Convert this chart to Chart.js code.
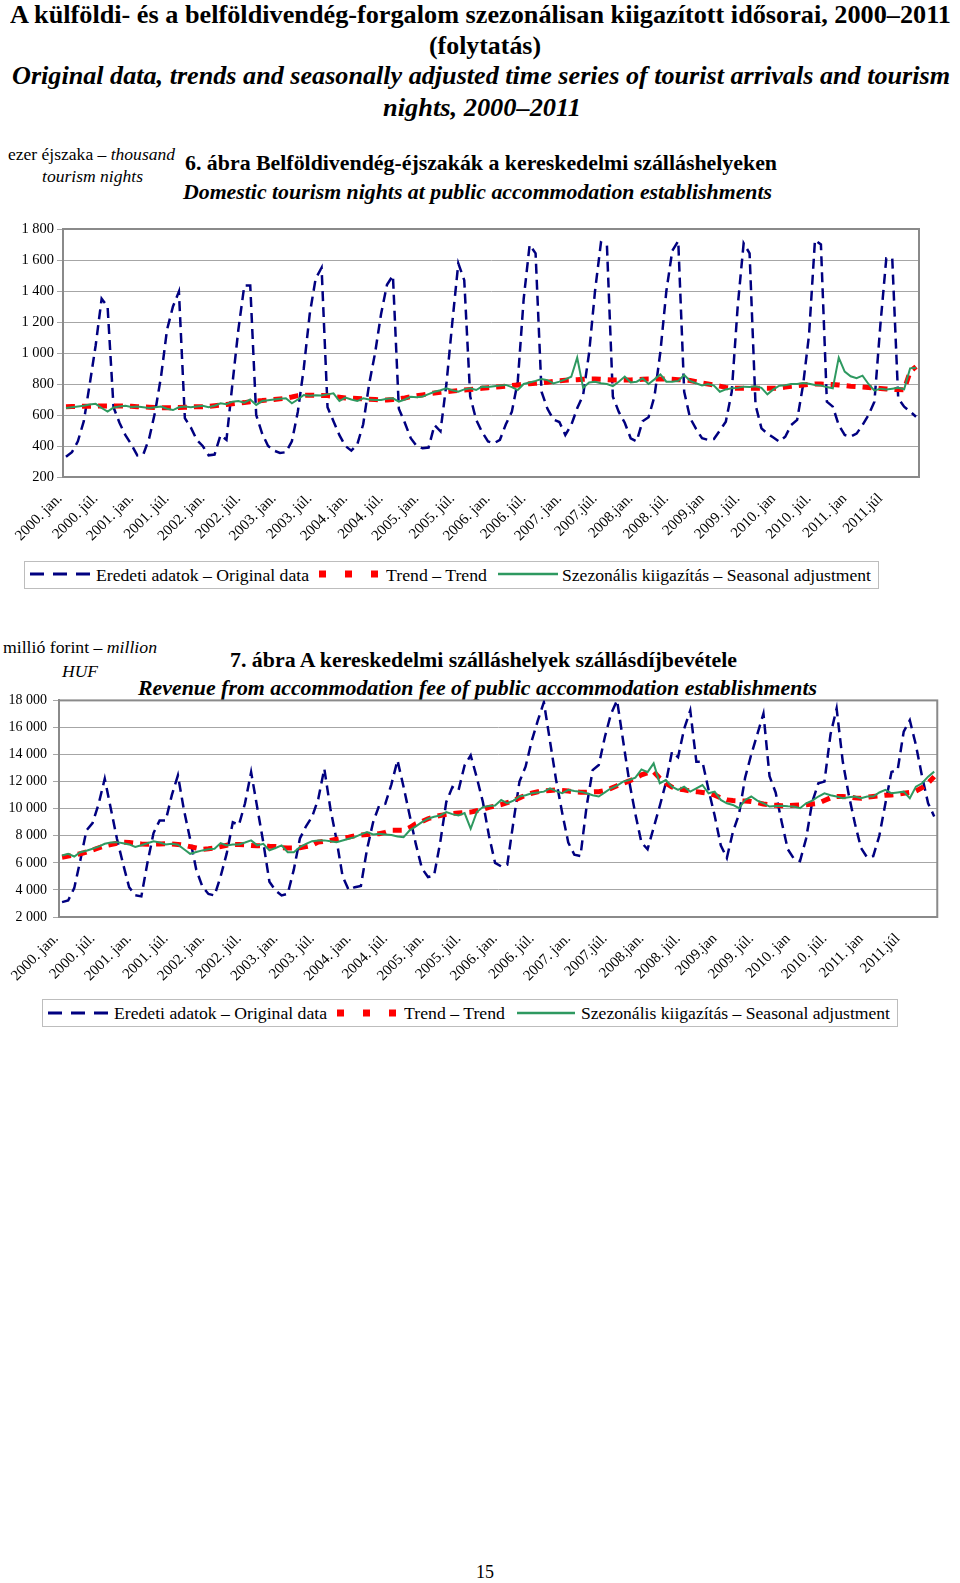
<!DOCTYPE html>
<html>
<head>
<meta charset="utf-8">
<script src="https://cdn.jsdelivr.net/npm/chart.js@4.4.1/dist/chart.umd.min.js"></script>
<style>
html,body{margin:0;padding:0;background:#fff;}
body{width:960px;height:1583px;position:relative;overflow:hidden;font-family:'Liberation Serif','Times New Roman',serif;color:#000;}
.t{position:absolute;white-space:nowrap;transform-origin:left center;}
.h1{font-size:26px;font-weight:bold;line-height:30px;height:30px;}
.h1i{font-size:26px;font-weight:bold;font-style:italic;line-height:30px;height:30px;}
.ct{font-size:20px;font-weight:bold;line-height:24px;height:24px;}
.cti{font-size:20px;font-weight:bold;font-style:italic;line-height:24px;height:24px;}
.unit{font-size:16px;line-height:20px;height:20px;}
.lgbox{position:absolute;border:1px solid #bdbdbd;box-sizing:border-box;background:#fff;}
.lgt{font-size:17.5px;line-height:20px;height:20px;}
.lgs{position:absolute;}
canvas{position:absolute;left:0;}
</style>
</head>
<body>
<!-- page titles -->
<div class="t h1" data-x0="10" data-w="941" style="top:0px">A külföldi- és a belföldivendég-forgalom szezonálisan kiigazított idősorai, 2000–2011</div>
<div class="t h1" data-x0="429" data-w="112" style="top:31px">(folytatás)</div>
<div class="t h1i" data-x0="12" data-w="938" style="top:61px">Original data, trends and seasonally adjusted time series of tourist arrivals and tourism</div>
<div class="t h1i" data-x0="383" data-w="198" style="top:93px">nights, 2000–2011</div>

<!-- chart 1 texts -->
<div class="t unit" data-x0="8" data-w="167" style="top:145px">ezer éjszaka – <i>thousand</i></div>
<div class="t unit" data-x0="42" data-w="101" style="top:167px"><i>tourism nights</i></div>
<div class="t ct" data-x0="185" data-w="592" style="top:151px">6. ábra Belföldivendég-éjszakák a kereskedelmi szálláshelyeken</div>
<div class="t cti" data-x0="183" data-w="589" style="top:180px">Domestic tourism nights at public accommodation establishments</div>

<canvas id="c1" width="960" height="342" style="top:215px"></canvas>

<div class="lgbox" style="left:24px;top:561px;width:855px;height:28px"></div>
<svg class="lgs" style="left:30px;top:570px" width="61" height="8"><line x1="0" y1="4" x2="61" y2="4" stroke="#000080" stroke-width="3" stroke-dasharray="14,9"/></svg>
<div class="t lgt" data-x0="96" data-w="213" style="top:565px">Eredeti adatok – Original data</div>
<svg class="lgs" style="left:319px;top:570px" width="59" height="8"><line x1="0" y1="4" x2="59" y2="4" stroke="#ff0000" stroke-width="7" stroke-dasharray="7,19"/></svg>
<div class="t lgt" data-x0="386" data-w="101" style="top:565px">Trend – Trend</div>
<svg class="lgs" style="left:498px;top:570px" width="60" height="8"><line x1="0" y1="4" x2="60" y2="4" stroke="#2e9960" stroke-width="2.5"/></svg>
<div class="t lgt" data-x0="562" data-w="309" style="top:565px">Szezonális kiigazítás – Seasonal adjustment</div>

<!-- chart 2 texts -->
<div class="t unit" data-x0="3" data-w="154" style="top:638px">millió forint – <i>million</i></div>
<div class="t unit" data-x0="62" data-w="36" style="top:662px"><i>HUF</i></div>
<div class="t ct" data-x0="230" data-w="507" style="top:648px">7. ábra A kereskedelmi szálláshelyek szállásdíjbevétele</div>
<div class="t cti" data-x0="138" data-w="679" style="top:676px">Revenue from accommodation fee of public accommodation establishments</div>

<canvas id="c2" width="960" height="311" style="top:686px"></canvas>

<div class="lgbox" style="left:42px;top:999px;width:856px;height:28px"></div>
<svg class="lgs" style="left:48px;top:1009px" width="61" height="8"><line x1="0" y1="4" x2="61" y2="4" stroke="#000080" stroke-width="3" stroke-dasharray="14,9"/></svg>
<div class="t lgt" data-x0="114" data-w="213" style="top:1003px">Eredeti adatok – Original data</div>
<svg class="lgs" style="left:337px;top:1009px" width="59" height="8"><line x1="0" y1="4" x2="59" y2="4" stroke="#ff0000" stroke-width="7" stroke-dasharray="7,19"/></svg>
<div class="t lgt" data-x0="404" data-w="101" style="top:1003px">Trend – Trend</div>
<svg class="lgs" style="left:517px;top:1009px" width="58" height="8"><line x1="0" y1="4" x2="58" y2="4" stroke="#2e9960" stroke-width="2.5"/></svg>
<div class="t lgt" data-x0="581" data-w="309" style="top:1003px">Szezonális kiigazítás – Seasonal adjustment</div>

<div class="t" style="left:476px;top:1561px;font-size:18px;line-height:22px">15</div>

<script>
// ---------- DATA ----------
const years = [2000,2001,2002,2003,2004,2005,2006,2007,2008,2009,2010,2011];
const months = ['01','02','03','04','05','06','07','08','09','10','11','12'];
const tickLabels = ["2000. jan.","2000. júl.","2001. jan.","2001. júl.","2002. jan.","2002. júl.",
  "2003. jan.","2003. júl.","2004. jan.","2004. júl.","2005. jan.","2005. júl.",
  "2006. jan.","2006. júl.","2007. jan.","2007.júl.","2008.jan.","2008. júl.",
  "2009.jan","2009. júl.","2010. jan","2010. júl.","2011. jan","2011.júl"];

// Chart 6: domestic tourism nights (thousand)
const nightsOriginal = [
  330,360,430,560,800,1050,1350,1300,650,550,470,410,
  340,345,450,620,850,1150,1300,1396,580,520,440,400,
  340,345,470,440,800,1150,1435,1435,600,480,400,370,
  355,360,430,620,900,1250,1480,1550,650,560,470,400,
  370,410,540,800,1000,1250,1440,1500,640,550,450,400,
  385,390,535,495,800,1200,1578,1470,720,570,490,430,
  417,440,540,620,815,1350,1697,1643,750,640,570,555,
  471,535,643,729,1000,1400,1714,1697,718,620,550,450,
  430,560,585,720,1009,1400,1660,1723,750,580,510,450,
  440,445,500,557,750,1300,1708,1643,665,514,480,455,
  428,460,535,568,794,1116,1729,1700,686,654,535,471,
  460,480,535,600,686,1180,1611,1611,708,654,622,589];
const nightsTrend = [
  654,655,656,657,657,658,658,658,658,658,658,656,
  654,652,650,648,647,647,647,648,650,652,653,654,
  656,660,664,668,672,676,680,686,690,693,697,700,
  704,708,716,725,727,728,727,726,725,720,715,710,
  708,706,704,702,700,697,697,700,705,710,718,724,
  730,736,742,746,750,754,758,762,765,768,772,776,
  780,783,786,790,794,798,802,804,808,812,816,820,
  824,826,828,830,832,832,830,828,826,826,826,826,
  828,830,832,832,832,832,830,828,826,822,815,806,
  800,794,786,778,772,772,772,772,772,772,772,772,
  775,780,785,789,793,797,800,800,798,796,794,790,
  786,783,780,777,774,771,768,766,764,763,880,912];
const nightsSA = [
  645,650,655,660,668,672,645,622,648,655,660,652,
  655,650,645,650,655,640,632,650,655,650,655,660,
  650,660,675,670,686,690,680,700,665,690,695,700,
  705,708,675,700,729,725,728,726,733,740,690,712,
  700,690,708,700,697,697,705,708,686,700,718,715,
  720,735,750,760,772,760,750,765,772,761,783,780,
  785,790,794,780,761,800,810,820,832,825,804,815,
  830,847,970,775,810,815,805,800,786,815,848,810,
  815,837,800,830,862,815,815,820,858,820,805,790,
  800,790,750,765,772,775,783,780,785,775,733,765,
  789,792,800,800,806,802,794,790,780,772,970,880,
  850,837,854,800,757,770,765,770,775,766,901,905];

// Chart 7: accommodation fee revenue (million HUF)
const revenueOriginal = [
  3100,3220,4130,6200,8400,8940,10360,12210,10000,7780,5930,4200,
  3600,3520,6000,8200,9130,9130,11000,12460,9870,7750,5500,4250,
  3700,3590,5000,6700,9000,8800,10400,12700,10100,7500,4600,3960,
  3590,3710,5500,7800,8700,9400,10700,12950,10000,7700,5000,4000,
  4200,4300,7000,9000,10240,10360,11800,13570,11600,9500,7400,5600,
  4950,5070,7500,10500,11600,11350,13200,13940,12300,10500,8000,6000,
  5740,5860,9000,12000,13100,15000,16500,17870,15000,12130,9700,7500,
  6600,6500,10160,12850,13230,15300,17000,18000,15000,12000,9600,7500,
  7000,8600,10200,11900,14200,13800,15900,17260,13470,13470,11400,9500,
  7300,6360,8300,9600,12300,14000,15500,17020,12400,11200,9000,7000,
  6300,6130,7800,10500,11870,12000,15500,17400,13500,11000,8900,7100,
  6400,6500,8000,10400,12720,12850,15700,16530,14700,12400,10400,9430];
const revenueTrend = [
  6420,6500,6580,6670,6800,6950,7100,7250,7350,7450,7520,7500,
  7450,7400,7380,7390,7400,7410,7400,7360,7300,7200,7100,7000,
  7040,7100,7200,7300,7360,7350,7330,7290,7270,7250,7220,7200,
  7110,7100,7100,7110,7200,7300,7530,7600,7660,7740,7820,7900,
  8000,8050,8100,8130,8150,8250,8400,8400,8400,8600,8890,9050,
  9260,9400,9500,9580,9650,9680,9720,9750,9850,9950,10100,10200,
  10300,10450,10600,10800,11000,11140,11250,11300,11350,11390,11350,11300,
  11250,11210,11220,11240,11260,11350,11500,11700,11880,12050,12250,12500,
  12650,12740,12250,11880,11600,11450,11390,11300,11260,11200,11140,11000,
  10800,10650,10600,10580,10560,10530,10450,10350,10280,10250,10210,10220,
  10250,10270,10300,10350,10400,10600,10800,10900,10900,10880,10800,10770,
  10850,10900,10950,11000,11020,11060,11140,11200,11300,11550,11900,12370];
const revenueSA = [
  6540,6670,6470,6790,6900,7040,7200,7410,7500,7530,7450,7360,
  7170,7300,7450,7600,7500,7360,7410,7340,7000,6670,6800,6920,
  7000,7040,7460,7290,7360,7360,7500,7660,7290,7410,6920,7100,
  7290,6790,6790,7170,7400,7600,7650,7660,7600,7530,7650,7780,
  7900,8100,8270,8100,8150,8100,8050,7950,7900,8400,8700,9010,
  9260,9400,9500,9750,9600,9500,9680,8520,9750,10120,10200,10240,
  10650,10400,10600,10900,11000,11140,11200,11260,11510,11300,11140,11390,
  11300,11260,11140,11000,10900,11200,11510,11700,12000,12120,12300,12900,
  12700,13350,11880,12120,11630,11390,11630,11260,11500,11750,11140,11260,
  10650,10400,10280,10040,10650,10900,10600,10400,10160,10200,10210,10180,
  10160,10040,10400,10600,10900,11140,11000,10900,10770,10850,10900,10770,
  10900,10900,11200,11390,11140,11200,11260,10770,11630,11880,12370,12740];

// ---------- TEXT FIT ----------
document.querySelectorAll('[data-w]').forEach(el => {
  const w = +el.dataset.w;
  el.style.left = el.dataset.x0 + 'px';
  const nat = el.getBoundingClientRect().width;
  el.style.transform = 'scaleX(' + (w / nat) + ')';
});

// ---------- CHARTS ----------
const categories = [];
years.forEach(y => months.forEach(m => categories.push(y + '-' + m)));

const FONT = "'Liberation Serif','Times New Roman',serif";
Chart.defaults.font.family = FONT;
Chart.defaults.color = '#000';

const fmt = v => v >= 1000 ? Math.floor(v / 1000) + ' ' + String(v % 1000).padStart(3, '0') : String(v);

const framePlugin = {
  id: 'frame',
  beforeDatasetsDraw(chart) {
    const {ctx, chartArea: a} = chart;
    ctx.save();
    ctx.strokeStyle = '#8a8a8a';
    ctx.lineWidth = 2;
    ctx.strokeRect(a.left, a.top, a.right - a.left, a.bottom - a.top);
    ctx.restore();
  }
};

function makeChart(id, orig, trend, sa, ymin, ymax, step, yWidth, padRight, tickPad, yFont) {
  return new Chart(document.getElementById(id), {
    type: 'line',
    data: {
      labels: categories,
      datasets: [
        {label: 'Eredeti adatok – Original data', data: orig, borderColor: '#000080', borderWidth: 2.5,
         borderDash: [10, 6], pointRadius: 0, tension: 0, fill: false, order: 3},
        {label: 'Trend – Trend', data: trend, borderColor: '#ff0000', borderWidth: 5,
         borderDash: [9, 7], pointRadius: 0, tension: 0, fill: false, order: 2},
        {label: 'Szezonális kiigazítás – Seasonal adjustment', data: sa, borderColor: '#2e9960', borderWidth: 2,
         pointRadius: 0, tension: 0, fill: false, order: 1}
      ]
    },
    options: {
      responsive: false,
      animation: false,
      devicePixelRatio: 1,
      layout: {padding: {left: 0, right: padRight, top: 14, bottom: 0}},
      plugins: {legend: {display: false}, tooltip: {enabled: false}},
      scales: {
        x: {
          type: 'category', offset: true,
          grid: {display: false, drawTicks: false},
          border: {display: false},
          ticks: {autoSkip: false, minRotation: 45, maxRotation: 45, padding: 13, labelOffset: -6,
                  font: {family: FONT, size: 15}, color: '#000',
                  callback: (v, i) => (i % 6 === 0 ? tickLabels[i / 6] : '')},
          afterFit(s) { s.height = 80; }
        },
        y: {
          min: ymin, max: ymax,
          ticks: {stepSize: step, padding: tickPad, font: {family: FONT, size: yFont}, color: '#000',
                  callback: v => fmt(v)},
          grid: {color: '#a6a6a6', lineWidth: 1, tickLength: 6, drawTicks: true},
          border: {color: '#8a8a8a', width: 2},
          afterFit(s) { s.width = yWidth; }
        }
      }
    },
    plugins: [framePlugin]
  });
}

makeChart('c1', nightsOriginal, nightsTrend, nightsSA, 200, 1800, 200, 63, 41, 3, 14.5);
makeChart('c2', revenueOriginal, revenueTrend, revenueSA, 2000, 18000, 2000, 59, 17, 6, 14);
</script>
</body>
</html>
